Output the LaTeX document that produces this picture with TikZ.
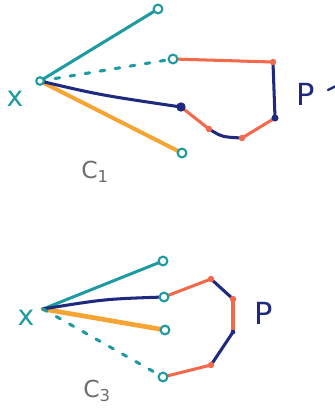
\documentclass[tikz,border=0pt]{standalone}
\usepackage{fontspec}
\setmainfont{DejaVu Sans}
\begin{document}
\begin{tikzpicture}[x=0.03cm,y=-0.03cm,line cap=round,line join=round,
  tealline/.style={draw=tealc,line width=2.6pt},
  navyline/.style={draw=navyc,line width=2.6pt},
  redline/.style={draw=redc,line width=2.6pt},
  yelline/.style={draw=yelc,line width=3.4pt},
  dashline/.style={draw=tealc,line width=2.6pt,dash pattern=on 4pt off 9pt},
  endc/.style={circle,draw=tealc,line width=1.8pt,fill=white,inner sep=0pt,minimum size=7.5pt},
  dotr/.style={circle,fill=redc,inner sep=0pt,minimum size=5.5pt},
  dotn/.style={circle,fill=navyc,inner sep=0pt,minimum size=6pt},
  lbl/.style={font=\fontsize{24}{26}\selectfont},
]
\definecolor{tealc}{HTML}{1E9AA0}
\definecolor{navyc}{HTML}{1F2A7E}
\definecolor{redc}{HTML}{F26A4B}
\definecolor{yelc}{HTML}{F6A535}
\definecolor{grayc}{HTML}{6E6E6E}
\useasboundingbox (0,0) rectangle (335,412);
\fill[white] (0,0) rectangle (335,412);

% ---------- top figure ----------
\coordinate (x1) at (40,81);
\coordinate (a1) at (158,9);
\coordinate (b1) at (173,59);
\coordinate (c1) at (181,107);
\coordinate (d1) at (182,153);
\coordinate (p1) at (273,62);
\coordinate (p2) at (275,118);
\coordinate (p3) at (242,138);
\coordinate (p4) at (209,129);

\draw[yelline] (x1) -- (d1);
\draw[tealline] (x1) -- (a1);
\draw[dashline] (x1) -- (b1);
\draw[navyline] (x1) .. controls (100,95) .. (c1);
\draw[redline] (b1) -- (p1);
\draw[navyline] (p1) -- (p2);
\draw[redline] (p2) -- (p3);
\draw[navyline] (p3) .. controls (222,137) .. (p4);
\draw[redline] (p4) -- (c1);
\node[dotr] at (p1) {};
\node[dotn] at (p2) {};
\node[dotr] at (p3) {};
\node[dotr] at (p4) {};
\node[dotn,minimum size=8pt] at (c1) {};
\node[endc] (ea1) at (a1) {};
\node[endc] (eb1) at (b1) {};
\node[endc] (ed1) at (d1) {};
\node[endc,minimum size=6.5pt] (ex1) at (x1) {};

\node[lbl,text=tealc] (lx1) at (15,99) {x};
\node[text=navyc,font=\fontsize{26}{28}\selectfont] (lp1) at (306,94) {P};
\draw[navyc,line width=2pt] (328,90) -- (336,86);
\node[text=grayc,font=\fontsize{20}{22}\selectfont] (lc1) at (95,172) {C$_{\mathrm{1}}$};

% ---------- bottom figure ----------
\coordinate (x2) at (43,309);
\coordinate (a2) at (163,261);
\coordinate (b2) at (164,297);
\coordinate (c2) at (165,330);
\coordinate (d2) at (163,377);
\coordinate (q1) at (211,279);
\coordinate (q2) at (233,299);
\coordinate (q3) at (233,332);
\coordinate (q4) at (211,365);

\draw[yelline,line width=4pt] (x2) -- (c2);
\draw[tealline] (x2) -- (a2);
\draw[navyline] (x2) .. controls (105,299) .. (b2);
\draw[dashline] (x2) -- (d2);
\draw[redline] (b2) -- (q1);
\draw[navyline] (q1) -- (q2);
\draw[redline] (q2) -- (q3);
\draw[navyline] (q3) -- (q4);
\draw[redline] (q4) -- (d2);
\node[dotr] at (q1) {};
\node[dotr] at (q2) {};
\node[dotn,minimum size=4pt] at (q3) {};
\node[dotr] at (q4) {};
\node[endc] (ea2) at (a2) {};
\node[endc] (eb2) at (b2) {};
\node[endc] (ec2) at (c2) {};
\node[endc] (ed2) at (d2) {};

\node[lbl,text=tealc] (lx2) at (26,318) {x};
\node[text=navyc,font=\fontsize{26}{28}\selectfont] (lp2) at (264,313) {P};
\node[text=grayc,font=\fontsize{20}{22}\selectfont] (lc2) at (97,391) {C$_{\mathrm{3}}$};
\end{tikzpicture}
\end{document}
